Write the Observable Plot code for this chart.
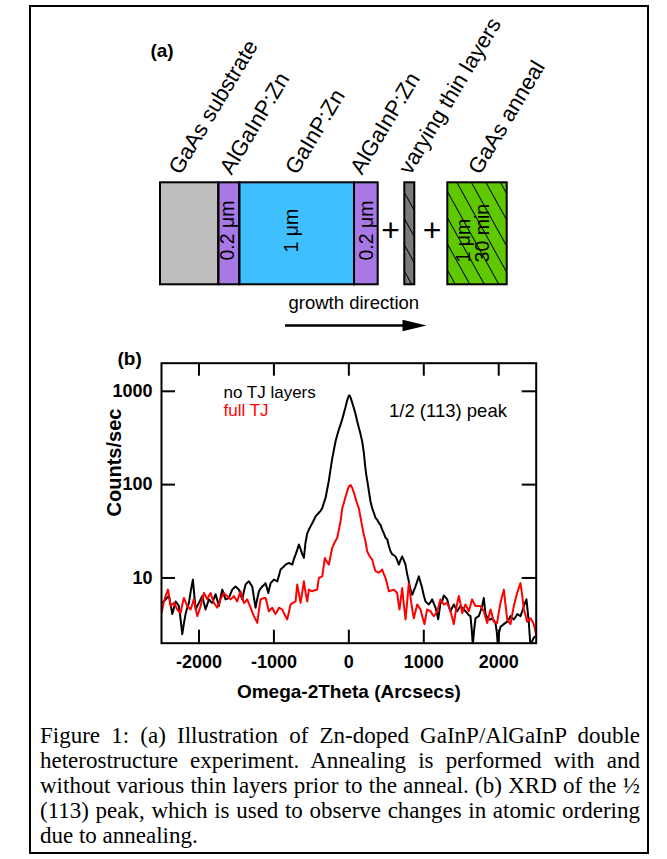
<!DOCTYPE html>
<html>
<head>
<meta charset="utf-8">
<script src="https://cdn.jsdelivr.net/npm/d3@7"></script>
<script src="https://cdn.jsdelivr.net/npm/@observablehq/plot@0.6"></script>
<style>
html, body { margin: 0; padding: 0; background: #fff; }
#page { position: relative; width: 667px; height: 859px; overflow: hidden; background: #fff; }
#border { position: absolute; left: 29px; top: 5px; width: 616px; height: 845px; border: 2px solid #000; }
#panelA, #panelB { position: absolute; left: 0; }
#panelA { top: 0; }
#panelB { top: 335px; }
#caption { position: absolute; left: 40px; width: 600px; top: 722.7px;
  font-family: "Liberation Serif", "Times New Roman", serif; font-size: 23px; line-height: 25px; color: #000; }
#caption .j { text-align: justify; text-align-last: justify; }
#caption .l { text-align: left; }
</style>
</head>
<body>
<div id="page">
  <div id="border"></div>
  <div id="panelA"></div>
  <div id="panelB"></div>
  <div id="caption">
    <div class="j">Figure 1: (a) Illustration of Zn-doped GaInP/AlGaInP double</div>
    <div class="j">heterostructure experiment. Annealing is performed with and</div>
    <div class="j">without various thin layers prior to the anneal. (b) XRD of the ½</div>
    <div class="j">(113) peak, which is used to observe changes in atomic ordering</div>
    <div class="l">due to annealing.</div>
  </div>
</div>
<script>
// ---------- Panel (a): layer stack (x in % of stack width, y: 0 = box bottom, 1 = box top) ----------
const layerNames = ["GaAs substrate", "AlGaInP:Zn", "GaInP:Zn", "AlGaInP:Zn", "varying thin layers", "GaAs anneal"];
const layerStart = [0, 16.82, 22.87, 55.96, 70.46, 82.87];
const layerEnd   = [16.82, 22.87, 55.96, 62.79, 73.35, 100];
const labelAt    = [5.77, 20.5, 39.36, 58.1, 72.1, 92.15];
const hatchedLayers = [4, 5];
const noteText = ["0.2 μm", "1 μm", "0.2 μm"];
const noteAt   = [19.5, 37.73, 59.42];
const annealNote = "1 μm\n30 min";
const plusAt = [66.34, 78.37];
const arrowFrom = 36.05, arrowTo = 76.72;

// ---------- Panel (b): XRD 1/2 (113) peak ----------
const xTicks = [-2000, -1000, 0, 1000, 2000];
const yTicks = [10, 100, 1000];

const offsetNoTJ = [-2500,-2470,-2445,-2420,-2401,-2378,-2356,-2334,-2312,-2290,-2268,-2245,-2223,-2200,-2179,-2156,-2134,-2110,-2081,-2062,-2045,-2023,-2001,-1978,-1956,-1934,-1912,-1890,-1868,-1845,-1823,-1800,-1778,-1756,-1734,-1712,-1689,-1667,-1645,-1623,-1601,-1578,-1556,-1534,-1512,-1490,-1467,-1445,-1422,-1400,-1378,-1356,-1334,-1311,-1289,-1267,-1245,-1222,-1200,-1178,-1155,-1133,-1111,-1093,-1075,-1060,-1044,-1022,-1000,-978,-955,-933,-911,-878,-845,-822,-800,-778,-755,-733,-711,-689,-667,-645,-622,-600,-578,-555,-533,-511,-478,-444,-420,-400,-380,-355,-333,-311,-290,-267,-245,-222,-200,-178,-155,-133,-111,-89,-67,-44,-22,0,11,22,44,67,89,112,133,155,178,200,215,232,250,267,289,311,333,356,378,400,422,445,467,489,512,534,556,578,600,622,645,667,690,711,733,756,778,800,822,845,867,889,912,934,956,978,1000,1023,1045,1067,1090,1112,1134,1156,1175,1192,1223,1245,1267,1290,1312,1334,1356,1378,1401,1423,1446,1468,1490,1512,1534,1557,1579,1601,1623,1640,1654,1672,1690,1712,1734,1757,1779,1801,1823,1846,1868,1890,1912,1935,1957,1975,1988,2005,2024,2046,2068,2090,2113,2135,2157,2179,2201,2224,2246,2268,2290,2313,2335,2355,2370,2385,2401,2412,2424,2446,2468,2485,2500];
const countsNoTJ = [5.4,5.6,5.9,6.2,6.4,5.2,4.1,4.8,5.6,5.3,5.0,3.6,2.5,3.3,4.1,4.8,5.4,7.2,9.6,6.5,4.6,5.0,5.4,5.9,6.4,5.4,4.6,5.2,5.9,5.6,5.4,6.0,6.7,5.8,5.0,6.2,7.5,6.6,5.9,6.0,6.1,6.8,7.5,7.8,8.1,7.8,7.5,6.6,5.9,7.2,8.5,8.9,9.2,8.6,8.1,6.2,4.8,6.0,7.2,7.7,8.1,8.4,8.8,7.8,6.9,7.8,8.8,9.2,9.6,9.4,9.2,10.6,12.3,13.0,13.9,14.2,14.5,14.2,13.9,16.0,17.8,20.0,22.8,20.5,18.0,16.4,24.0,30,33,35.7,40,45.7,48,50,52,56,64,72,88,110,145,190,235,290,340,390,440,500,580,680,800,900,900,860,760,660,570,474,410,350,290,220,165,128,105,85,66,56,50,44,42,39,37,33,30,27,26,22,19.3,18,17.5,17,15.5,13.9,15.5,17,15.5,13.9,11.0,9.2,7.5,6.6,7.3,8.1,9.2,10.4,9.0,7.8,6.5,5.6,5.4,5.2,5.5,5.9,5.3,4.8,4.2,3.6,5.4,5.6,6.5,6.2,5.9,5.0,4.4,4.8,5.2,4.8,4.4,4.7,5.0,4.8,4.6,4.4,4.2,4.0,3.9,2.8,1.9,2.8,3.7,3.8,3.9,4.4,5.0,6.1,4.1,3.8,3.6,3.6,3.7,3.5,3.3,2.6,1.9,2.6,3.0,3.1,3.2,3.3,3.4,3.6,3.9,3.7,3.6,3.8,4.1,4.0,3.9,4.4,5.0,5.5,5.9,4.5,3.4,2.5,1.9,2.1,2.3,2.35,2.4];

const offsetFullTJ = [-2500,-2470,-2445,-2414,-2395,-2379,-2356,-2334,-2312,-2290,-2268,-2245,-2223,-2201,-2178,-2156,-2134,-2112,-2090,-2068,-2045,-2023,-2000,-1978,-1956,-1934,-1912,-1890,-1868,-1845,-1823,-1801,-1778,-1756,-1734,-1712,-1690,-1667,-1645,-1623,-1600,-1578,-1556,-1534,-1512,-1490,-1468,-1445,-1423,-1401,-1378,-1356,-1334,-1311,-1289,-1267,-1245,-1222,-1200,-1178,-1155,-1133,-1111,-1089,-1067,-1045,-1022,-1000,-978,-955,-933,-911,-889,-855,-822,-800,-778,-745,-711,-689,-667,-644,-622,-600,-578,-555,-533,-511,-489,-455,-422,-400,-378,-355,-338,-320,-295,-267,-245,-222,-190,-155,-133,-111,-88,-66,-44,-22,0,23,45,67,89,112,133,155,178,200,223,245,270,290,312,334,356,378,400,423,445,467,489,512,534,556,578,600,623,645,660,676,694,712,734,756,778,800,815,830,848,867,890,912,934,956,983,1010,1028,1045,1067,1090,1112,1134,1157,1179,1201,1223,1245,1267,1290,1312,1334,1356,1378,1401,1434,1467,1490,1512,1534,1556,1578,1601,1623,1645,1668,1690,1723,1757,1779,1801,1823,1846,1868,1890,1912,1934,1957,1979,2001,2024,2046,2068,2090,2113,2135,2157,2179,2201,2224,2246,2268,2290,2313,2335,2357,2379,2401,2424,2446,2468,2485,2500];
const countsFullTJ = [4.2,5.5,6.4,7.5,6.2,5.0,5.2,5.4,5.0,4.6,4.4,4.2,5.2,6.1,5.5,5.0,4.8,4.6,5.2,5.9,4.8,3.9,4.4,5.0,6.0,6.9,6.4,5.9,6.4,6.9,6.1,5.4,5.1,4.8,5.3,5.9,6.4,6.9,6.6,6.4,6.1,5.9,6.1,6.4,6.0,5.6,6.4,7.2,6.2,5.4,5.6,5.9,5.3,4.8,4.3,3.9,3.6,3.3,4.5,5.9,6.0,6.1,6.1,5.2,4.4,4.6,4.8,4.4,4.1,4.4,4.8,4.7,4.6,4.0,3.6,4.3,5.2,5.4,5.6,8.5,6.8,5.4,7.0,9.2,7.0,5.6,7.5,7.3,7.2,7.4,7.5,10,10.2,10.4,13,16.4,15,13.9,17,21,24,27,33,40,56,64,74,85,95,99,92,82,72,62,56,45,35.7,29,24.5,19.3,17.5,16.5,15.7,13.5,11.8,11.6,11.4,11.8,12.3,11.0,10.0,8.5,7.2,7.3,7.4,7.5,7.2,6.9,5.5,4.6,6.0,7.8,5.2,3.6,5.5,8.8,7.0,5.6,4.5,3.7,4.4,5.2,4.9,4.6,3.8,3.2,3.9,4.6,4.5,4.4,4.1,3.9,4.1,4.4,5.1,5.9,5.5,5.2,5.3,5.4,4.9,4.4,3.8,3.2,4.8,6.4,5.3,4.2,4.7,5.2,4.8,4.4,5.1,5.9,5.4,5.0,5.0,5.0,4.7,4.4,3.8,3.3,3.9,4.6,4.0,3.4,3.35,3.3,4.3,5.4,6.4,7.5,5.2,3.6,3.4,3.2,4.0,5.0,5.9,6.9,7.8,8.8,6.5,4.6,4.0,3.4,3.55,3.7,3.45,3.2,2.8,2.4];

const noTJ = offsetNoTJ.map((v, i) => ({v, c: countsNoTJ[i]}));
const fullTJ = offsetFullTJ.map((v, i) => ({v, c: countsFullTJ[i]}));

// ---------- styles ----------
const sans = '"Liberation Sans", Arial, Helvetica, sans-serif';
const layerFill = ["#bdbdbd", "#a878e4", "#40bfff", "#a878e4", "#7a7a7a", "#5fc800"];

// ---------- draw panel (a) ----------
const idx = d3.range(layerNames.length);
const arrowHead = {draw(ctx) { ctx.moveTo(0, 0); ctx.lineTo(-24, -5.8); ctx.lineTo(-24, 5.8); ctx.closePath(); }};
const A = Plot.plot({
  width: 667, height: 340, margin: 0,
  x: {domain: [0, 100], range: [160, 506.7], axis: null},
  y: {domain: [0, 1], range: [284.3, 182.3], axis: null},
  color: {type: "identity"},
  style: {fontFamily: sans, background: "transparent", overflow: "visible", color: "#000"},
  marks: [
    Plot.rect(idx, {x1: i => layerStart[i], x2: i => layerEnd[i], y1: 0, y2: 1, fill: i => layerFill[i]}),
    Plot.rect(hatchedLayers, {x1: i => layerStart[i], x2: i => layerEnd[i], y1: 0, y2: 1, fill: "url(#hatch)"}),
    Plot.rect(idx, {x1: i => layerStart[i], x2: i => layerEnd[i], y1: 0, y2: 1, fill: "none", stroke: "#000", strokeWidth: 2}),
    Plot.text(idx, {x: i => labelAt[i], y: 1.07, text: i => layerNames[i], rotate: -59, textAnchor: "start", lineAnchor: "bottom", fontSize: 22}),
    Plot.text(d3.range(noteText.length), {x: i => noteAt[i], y: 0.532, text: i => noteText[i], rotate: -90, fontSize: 19.5}),
    Plot.text([annealNote], {x: 90.22, y: 0.219, rotate: -90, textAnchor: "start", fontSize: 19.5}),
    Plot.text(plusAt, {x: d => d, y: 0.532, text: () => "+", fontSize: 32}),
    Plot.text(["growth direction"], {x: 55.76, y: -0.242, lineAnchor: "bottom", fontSize: 18.5}),
    Plot.ruleY([-0.399], {x1: arrowFrom, x2: arrowTo, insetRight: 12, stroke: "#000", strokeWidth: 2.3}),
    Plot.dot([arrowTo], {x: d => d, y: -0.399, symbol: arrowHead, fill: "#000", r: 5}),
    Plot.text(["(a)"], {x: -2.9, y: 2.238, textAnchor: "start", lineAnchor: "bottom", fontSize: 19, fontWeight: "bold"})
  ]
});
d3.select(A).insert("defs", ":first-child").html(
  '<pattern id="hatch" patternUnits="userSpaceOnUse" width="12.7" height="12.7" patternTransform="rotate(61)">' +
  '<line x1="0" y1="6.35" x2="12.7" y2="6.35" stroke="#000" stroke-width="1"/></pattern>');
document.getElementById("panelA").appendChild(A);

// ---------- draw panel (b) ----------
const mL = 161, mR = 131.3, mT = 27.7, mB = 67.3, W = 667, H = 375;
const plotW = W - mL - mR, plotH = H - mT - mB;
const B = Plot.plot({
  width: W, height: H,
  marginLeft: mL, marginRight: mR, marginTop: mT, marginBottom: mB,
  x: {domain: [-2500, 2500], axis: null},
  y: {type: "log", domain: [2, 2000], axis: null},
  style: {fontFamily: sans, background: "transparent", overflow: "visible", color: "#000"},
  marks: [
    Plot.line(noTJ, {x: "v", y: "c", stroke: "#000", strokeWidth: 2, clip: true}),
    Plot.line(fullTJ, {x: "v", y: "c", stroke: "#ff0000", strokeWidth: 2, clip: true}),
    Plot.frame({stroke: "#000", strokeWidth: 2}),
    Plot.ruleX(xTicks, {x: d => d, insetTop: plotH - 13, stroke: "#000", strokeWidth: 2}),
    Plot.ruleX(xTicks, {x: d => d, insetBottom: plotH - 13, stroke: "#000", strokeWidth: 2}),
    Plot.ruleY(yTicks, {y: d => d, insetRight: plotW - 14, stroke: "#000", strokeWidth: 2}),
    Plot.ruleY(yTicks, {y: d => d, insetLeft: plotW - 14, stroke: "#000", strokeWidth: 2}),
    Plot.text(xTicks, {x: d => d, text: d => String(d), frameAnchor: "bottom", lineAnchor: "top", dy: 12, fontSize: 18, fontWeight: "bold"}),
    Plot.text(yTicks, {y: d => d, text: d => String(d), frameAnchor: "left", textAnchor: "end", dx: -9, fontSize: 18, fontWeight: "bold"}),
    Plot.text(["Counts/sec"], {frameAnchor: "left", textAnchor: "middle", rotate: -90, dx: -47, dy: -40.7, fontSize: 20, fontWeight: "bold"}),
    Plot.text(["Omega-2Theta (Arcsecs)"], {frameAnchor: "bottom", lineAnchor: "bottom", dy: 54.3, fontSize: 19, fontWeight: "bold"}),
    Plot.text(["(b)"], {frameAnchor: "top-left", textAnchor: "start", lineAnchor: "bottom", dx: -44, dy: 2, fontSize: 19, fontWeight: "bold"}),
    Plot.text(["no TJ layers"], {frameAnchor: "top-left", textAnchor: "start", lineAnchor: "bottom", dx: 62, dy: 34.6, fontSize: 17, fill: "#000"}),
    Plot.text(["full TJ"], {frameAnchor: "top-left", textAnchor: "start", lineAnchor: "bottom", dx: 62, dy: 53, fontSize: 17, fill: "#ff0000"}),
    Plot.text(["1/2 (113) peak"], {frameAnchor: "top-left", textAnchor: "start", lineAnchor: "bottom", dx: 227.5, dy: 53.3, fontSize: 18.5, fill: "#000"})
  ]
});
document.getElementById("panelB").appendChild(B);
</script>
</body>
</html>
